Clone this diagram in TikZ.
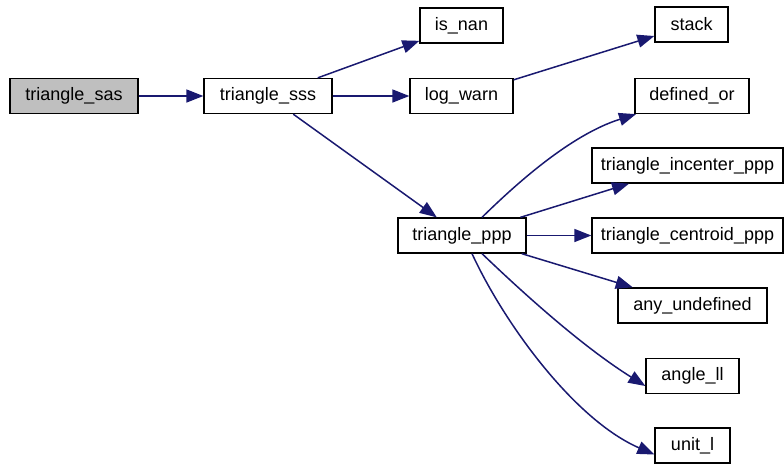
\documentclass[tikz,border=0pt]{standalone}
\usepackage{fontspec}
\setmainfont{Liberation Sans}
\usetikzlibrary{arrows.meta}
\definecolor{edgeblue}{HTML}{191970}
\definecolor{rootgray}{HTML}{BFBFBF}
\begin{document}
\begin{tikzpicture}[x=1pt,y=-1pt,
  fn/.style={draw=black,line width=1.3pt,fill=white,rectangle,inner sep=0pt,
    minimum height=35pt,font=\fontsize{18}{21}\selectfont},
  root/.style={fn,fill=rootgray},
  call/.style={draw=edgeblue,line width=1.5pt,
    -{Triangle[length=17pt,width=13pt]}}]
\useasboundingbox (0,0) rectangle (784,464);
% function boxes
\node[root,minimum width=128pt] (sas) at (74,96) {triangle\_sas};
\node[fn,minimum width=128pt] (sss) at (268,96) {triangle\_sss};
\node[fn,minimum width=83pt] (isnan) at (461.5,25.5) {is\_nan};
\node[fn,minimum width=103pt] (logwarn) at (461.5,96) {log\_warn};
\node[fn,minimum width=73pt] (stack) at (691.5,24.5) {stack};
\node[fn,minimum width=128pt] (ppp) at (462,235.5) {triangle\_ppp};
\node[fn,minimum width=114pt] (definedor) at (692,96) {defined\_or};
\node[fn,minimum width=191pt] (incenter) at (687.5,165.5) {triangle\_incenter\_ppp};
\node[fn,minimum width=191pt] (centroid) at (687.5,235.5) {triangle\_centroid\_ppp};
\node[fn,minimum width=149pt] (anyundef) at (692.5,305.5) {any\_undefined};
\node[fn,minimum width=93pt] (anglell) at (692.5,376) {angle\_ll};
\node[fn,minimum width=75pt] (unitl) at (692.5,445.5) {unit\_l};
% calls
\draw[call] (sas) -- (sss);
\draw[call] (sss) -- (isnan);
\draw[call] (sss) -- (logwarn);
\draw[call] (sss) -- (ppp);
\draw[call] (logwarn) -- (stack);
\draw[call] ([xshift=20pt]ppp.north) .. controls (515,185) and (570,135) .. ([xshift=-56pt]definedor.south);
\draw[call] (ppp) -- (incenter);
\draw[call] (ppp) -- (centroid);
\draw[call] (ppp) -- (anyundef);
\draw[call] ([xshift=20pt]ppp.south) .. controls (520,290) and (580,345) .. ([yshift=-10pt]anglell.west);
\draw[call] ([xshift=10pt]ppp.south) .. controls (505,325) and (575,420) .. ([yshift=-9pt]unitl.west);
\end{tikzpicture}
\end{document}
